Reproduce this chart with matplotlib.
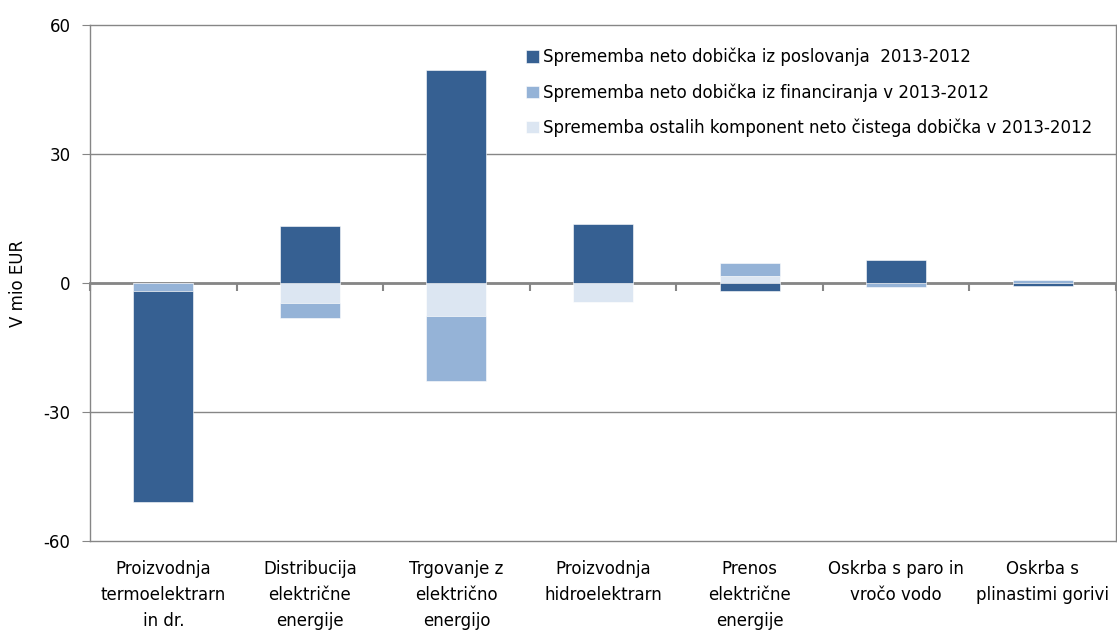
import matplotlib.pyplot as plt
import numpy as np

plt.rcParams['font.family'] = ['Liberation Sans Narrow', 'DejaVu Sans']

# podatki (mio EUR)
categories = ['Proizvodnja\ntermoelektrarn\nin dr.',
              'Distribucija\nelektrične\nenergije',
              'Trgovanje z\nelektrično\nenergijo',
              'Proizvodnja\nhidroelektrarn',
              'Prenos\nelektrične\nenergije',
              'Oskrba s paro in\nvročo vodo',
              'Oskrba s\nplinastimi gorivi']
poslovanje = [-49.1, 13.3, 49.5, 13.7, -1.8, 5.3, -0.6]
financiranje = [-1.8, -3.5, -15.2, 0.0, 3.0, -1.0, 0.6]
ostalo = [0.0, -4.7, -7.7, -4.4, 1.6, 0.0, 0.0]

labels = ['Sprememba neto dobička iz poslovanja  2013-2012',
          'Sprememba neto dobička iz financiranja v 2013-2012',
          'Sprememba ostalih komponent neto čistega dobička v 2013-2012']
colors = ['#366092', '#95b3d7', '#dce6f2']

fig = plt.figure(figsize=(11.17, 6.34), dpi=100)
ax = fig.add_axes([0.0806, 0.1467, 0.9185, 0.8139])

x = np.arange(len(categories))
pos_base = np.zeros(len(x))
neg_base = np.zeros(len(x))
handles = {}
# zlaganje od nič navzven: ostalo, financiranje, poslovanje
for vals, lab, col in [(ostalo, labels[2], colors[2]),
                       (financiranje, labels[1], colors[1]),
                       (poslovanje, labels[0], colors[0])]:
    v = np.array(vals)
    base = np.where(v >= 0, pos_base, neg_base)
    b = ax.bar(x, v, bottom=base, width=0.41, color=col,
               edgecolor='white', linewidth=0.4, zorder=3)
    handles[lab] = b
    pos_base = pos_base + np.clip(v, 0, None)
    neg_base = neg_base + np.clip(v, None, 0)

ax.set_xlim(-0.5, len(x) - 0.5)
ax.set_ylim(-60, 60)
ax.set_yticks([-60, -30, 0, 30, 60])
ax.set_yticklabels(['-60', '-30', '0', '30', '60'])
ax.grid(axis='y', color='#868686', linewidth=1.0, zorder=0)
for gl in ax.get_ygridlines():
    gl.set_clip_on(False)
for s in ['top', 'bottom']:
    ax.spines[s].set_visible(False)
for s in ['left', 'right']:
    ax.spines[s].set_color('#868686')
    ax.spines[s].set_linewidth(1.0)
ax.tick_params(axis='y', length=6, color='#868686', labelsize=12, pad=8)

ax.set_xticks(x)
ax.set_xticklabels(categories, fontsize=12, linespacing=1.55)
ax.tick_params(axis='x', length=0, pad=14)

# ničelna os s kljukicami med kategorijami
sec = ax.secondary_xaxis(0.5)
sec.set_xticks(np.arange(len(x) + 1) - 0.5)
sec.set_xticklabels([])
sec.tick_params(axis='x', length=6, width=1.5, color='#868686', direction='in')
for s in ['bottom', 'top']:
    sec.spines[s].set_color('#868686')
    sec.spines[s].set_linewidth(2)

ax.set_ylabel('V mio EUR', fontsize=12, labelpad=12)

fig.legend([handles[l] for l in labels], labels, loc='upper left',
           bbox_to_anchor=(0.465, 0.935), frameon=False, fontsize=12,
           handlelength=0.75, handleheight=0.75, handletextpad=0.25,
           labelspacing=1.0, borderaxespad=0)

fig.savefig('out.png', dpi=100)
